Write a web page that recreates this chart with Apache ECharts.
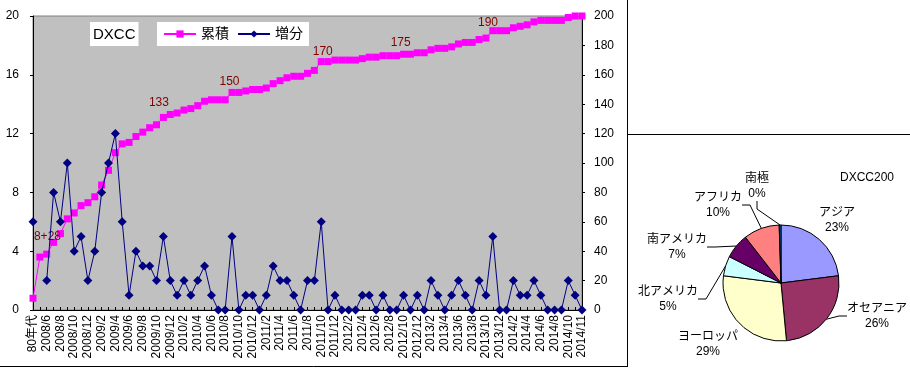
<!DOCTYPE html>
<html><head><meta charset="utf-8">
<script src="https://cdn.jsdelivr.net/npm/echarts@6/dist/echarts.min.js"></script>
<style>html,body{margin:0;padding:0;background:#fff}#c{width:910px;height:368px}</style>
</head><body><div id="c"></div>
<script>
const categories = ['80年代','2008/5','2008/6','2008/7','2008/8','2008/9','2008/10','2008/11','2008/12',
 '2009/1','2009/2','2009/3','2009/4','2009/5','2009/6','2009/7','2009/8','2009/9','2009/10','2009/11','2009/12',
 '2010/1','2010/2','2010/3','2010/4','2010/5','2010/6','2010/7','2010/8','2010/9','2010/10','2010/11','2010/12',
 '2011/1','2011/2','2011/3','2011/4','2011/5','2011/6','2011/7','2011/8','2011/9','2011/10','2011/11','2011/12',
 '2012/1','2012/2','2012/3','2012/4','2012/5','2012/6','2012/7','2012/8','2012/9','2012/10','2012/11','2012/12',
 '2013/1','2013/2','2013/3','2013/4','2013/5','2013/6','2013/7','2013/8','2013/9','2013/10','2013/11','2013/12',
 '2014/1','2014/2','2014/3','2014/4','2014/5','2014/6','2014/7','2014/8','2014/9','2014/10','2014/10後','2014/11'];
const cumulative = [8,36,38,46,52,62,66,71,73,77,85,95,107,113,114,118,121,124,126,131,133,
 134,136,137,139,142,143,143,143,148,148,149,150,150,151,154,156,158,159,159,161,163,169,169,170,
 170,170,170,171,172,172,173,173,173,174,174,175,175,177,178,178,179,181,182,182,184,185,190,190,
 190,192,193,194,196,197,197,197,197,199,200,200];
const increments = [6,null,2,8,6,10,4,5,2,4,8,10,12,6,1,4,3,3,2,5,2,1,2,1,2,3,1,0,0,5,0,1,1,0,1,3,2,2,1,
 0,2,2,6,0,1,0,0,0,1,1,0,1,0,0,1,0,1,0,2,1,0,1,2,1,0,2,1,5,0,0,2,1,1,2,1,0,0,0,2,1,0];
const milestoneIdx = [1,20,29,42,56,67];
const milestoneText = ['8+28','133','150','170','175','190'];
const pieNames = ['アジア','オセアニア','ヨーロッパ','北アメリカ','南アメリカ','アフリカ','南極'];
const pieValues = [46,51,57,11,14,20,1];
const piePercents = ['23%','26%','29%','5%','7%','10%','0%'];
const pieColors = ['#9999FF','#993366','#FFFFCC','#CCFFFF','#660066','#FF8080','#0066CC'];

// layout-only settings
const milestoneOffset = [[7.6,-20.4],[-11.3,-11.5],[-2.5,-10.4],[1.5,-9.9],[-16.6,-10],[-4.8,-8]];
const pieLabelPos = [[837,220],[877,316],[708,344],[668,299],[677,247],[718,205],[757,186]];
const pieLineShow = [false,true,false,true,true,true,true];

const FONT = "'Liberation Sans','Noto Sans CJK JP',sans-serif";
const chart = echarts.init(document.getElementById('c'), null, {renderer:'canvas'});

const cumData = cumulative.map((v,i)=>{
  const k = milestoneIdx.indexOf(i);
  if (k < 0) return v;
  return {value:v, label:{show:true, formatter:milestoneText[k], position:'inside',
    offset:milestoneOffset[k], color:'#800000', fontSize:12, fontFamily:FONT}};
});

chart.setOption({
  animation:false,
  textStyle:{fontFamily:FONT},
  title:[
    {text:'DXCC', left:90, top:22, padding:[5,3,4,3], backgroundColor:'#fff',
     textStyle:{fontSize:15, fontWeight:'normal', color:'#000', fontFamily:FONT}},
    {text:'DXCC200', left:840, top:172, padding:0,
     textStyle:{fontSize:12, fontWeight:'normal', color:'#000', fontFamily:FONT}}
  ],
  legend:{data:['累積','増分'], left:157, top:22, padding:[5,6,5,6], backgroundColor:'#fff',
    itemWidth:32, itemHeight:9, itemGap:8,
    textStyle:{fontSize:14, color:'#000', fontFamily:FONT}},
  grid:{left:33, right:328, top:16, bottom:58, show:true, backgroundColor:'#C0C0C0',
    borderColor:'#808080', borderWidth:1},
  xAxis:{type:'category', data:categories, boundaryGap:false,
    axisLine:{show:true, lineStyle:{color:'#000', width:1}},
    axisTick:{show:true, inside:true, length:3, interval:0, lineStyle:{color:'#000'}},
    axisLabel:{interval:1, rotate:90, margin:5, fontSize:12, color:'#000', fontFamily:FONT},
    splitLine:{show:false}},
  yAxis:[
    {type:'value', min:0, max:20, interval:4, position:'left',
     axisLine:{show:true, lineStyle:{color:'#000', width:1}},
     axisTick:{show:true, length:3, lineStyle:{color:'#000'}},
     axisLabel:{margin:14, fontSize:12, color:'#000', fontFamily:FONT},
     splitLine:{show:false}},
    {type:'value', min:0, max:200, interval:20, position:'right',
     axisLine:{show:true, lineStyle:{color:'#000', width:1}},
     axisTick:{show:true, length:3, lineStyle:{color:'#000'}},
     axisLabel:{margin:12, fontSize:12, color:'#000', fontFamily:FONT},
     splitLine:{show:false}}
  ],
  series:[
    {name:'累積', type:'line', xAxisIndex:0, yAxisIndex:1, data:cumData,
     symbol:'rect', symbolSize:7, showAllSymbol:true,
     lineStyle:{color:'#FF00FF', width:1}, itemStyle:{color:'#FF00FF'},
     emphasis:{disabled:true}, z:2},
    {name:'増分', type:'line', xAxisIndex:0, yAxisIndex:0, data:increments,
     symbol:'diamond', symbolSize:9, showAllSymbol:true, connectNulls:false,
     lineStyle:{color:'#000080', width:1}, itemStyle:{color:'#000080'},
     emphasis:{disabled:true}, z:3},
    {type:'pie', center:[781,283], radius:58, startAngle:90, clockwise:true,
     avoidLabelOverlap:false, emphasis:{disabled:true},
     data:pieNames.map((n,i)=>({name:n, value:pieValues[i],
       itemStyle:{color:pieColors[i], borderColor:'#000', borderWidth:1},
       labelLine:{show:pieLineShow[i]}})),
     label:{show:true, position:'outside', color:'#000', fontSize:12, lineHeight:15, fontFamily:FONT,
       formatter:(p)=>p.name+'\n'+piePercents[p.dataIndex]},
     labelLine:{length:8, length2:8, lineStyle:{color:'#000', width:1}},
     labelLayout:(p)=>{const c=pieLabelPos[p.dataIndex];return {x:c[0], y:c[1], align:'center', verticalAlign:'middle'};}
    }
  ],
  graphic:[
    {type:'line', shape:{x1:627.5,y1:0,x2:627.5,y2:367}, style:{stroke:'#000', lineWidth:1}, silent:true},
    {type:'line', shape:{x1:0,y1:366.5,x2:627.5,y2:366.5}, style:{stroke:'#000', lineWidth:1}, silent:true},
    {type:'line', shape:{x1:627.5,y1:134.5,x2:910,y2:134.5}, style:{stroke:'#000', lineWidth:1}, silent:true}
  ]
});
</script></body></html>
